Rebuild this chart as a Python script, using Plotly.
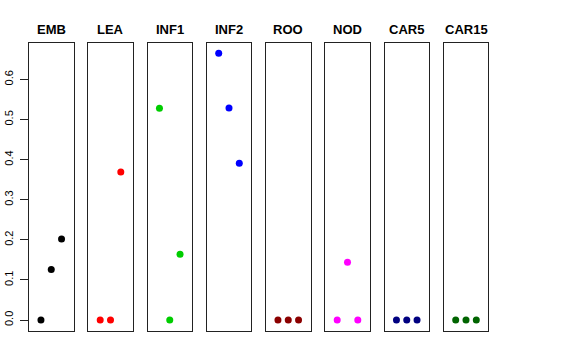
import plotly.graph_objects as go

panels = ["EMB", "LEA", "INF1", "INF2", "ROO", "NOD", "CAR5", "CAR15"]
x_pos = [1, 2, 3]
emb = [0.0, 0.126, 0.202]
lea = [0.0, 0.0, 0.369]
inf1 = [0.528, 0.0, 0.164]
inf2 = [0.665, 0.529, 0.391]
roo = [0.0, 0.0, 0.0]
nod = [0.0, 0.144, 0.0]
car5 = [0.0, 0.0, 0.0]
car15 = [0.0, 0.0, 0.0]
values = [emb, lea, inf1, inf2, roo, nod, car5, car15]
colors = ["#000000", "#FF0000", "#00CD00", "#0000FF", "#8B0000", "#FF00FF", "#000080", "#006400"]
y_ticks = [0.0, 0.1, 0.2, 0.3, 0.4, 0.5, 0.6]

W, H = 576, 360
left0, pitch, pw = 29.0, 59.25, 44.5
top_px, bot_px = 42.7, 330.7
y_dom = [(H - bot_px) / H, (H - top_px) / H]
ymax = 0.665
ext = 0.04 * ymax
y_range = [-ext, ymax + ext]
x_range = [0 - 0.16, 4 + 0.16]
title_y = 29.5

fig = go.Figure()
for i, (name, vals, col) in enumerate(zip(panels, values, colors)):
    n = i + 1
    xa = "x" if n == 1 else f"x{n}"
    ya = "y" if n == 1 else f"y{n}"
    fig.add_trace(go.Scatter(x=x_pos, y=vals, mode="markers",
                             marker=dict(color=col, size=7),
                             xaxis=xa, yaxis=ya, showlegend=False, hoverinfo="skip"))
    l = left0 + pitch * i
    r = l + pw
    fig.layout[f"xaxis{'' if n == 1 else n}"] = dict(
        domain=[l / W, r / W], range=x_range, showticklabels=False, ticks="",
        showgrid=False, zeroline=False, showline=True, linecolor="#222222",
        linewidth=1, mirror=True, anchor=ya, fixedrange=True, automargin=False)
    yd = dict(domain=y_dom, range=y_range, showgrid=False, zeroline=False,
              showline=True, linecolor="#222222", linewidth=1, mirror=True,
              anchor=xa, automargin=False, fixedrange=True)
    if n == 1:
        yd.update(tickmode="array", tickvals=y_ticks,
                  ticktext=[f"{v:.1f}" for v in y_ticks], ticks="outside",
                  ticklen=8, tickcolor="#222222", tickangle=-90,
                  ticklabelstandoff=3,
                  tickfont=dict(family="Liberation Sans", size=11, color="#000000"))
    else:
        yd.update(showticklabels=False, ticks="")
    fig.layout[f"yaxis{'' if n == 1 else n}"] = yd
    fig.add_annotation(x=(l + r) / 2 / W, y=(H - title_y) / H, xref="paper", yref="paper",
                       text=f"<b>{name}</b>", showarrow=False,
                       font=dict(family="Liberation Sans", size=13, color="#000000"),
                       xanchor="center", yanchor="middle")

fig.update_layout(width=W, height=H, margin=dict(l=0, r=0, t=0, b=0, autoexpand=False),
                  paper_bgcolor="white", plot_bgcolor="white")
fig.write_html("out.html", config={"displayModeBar": False},
               post_script="document.body.style.margin='0';")
